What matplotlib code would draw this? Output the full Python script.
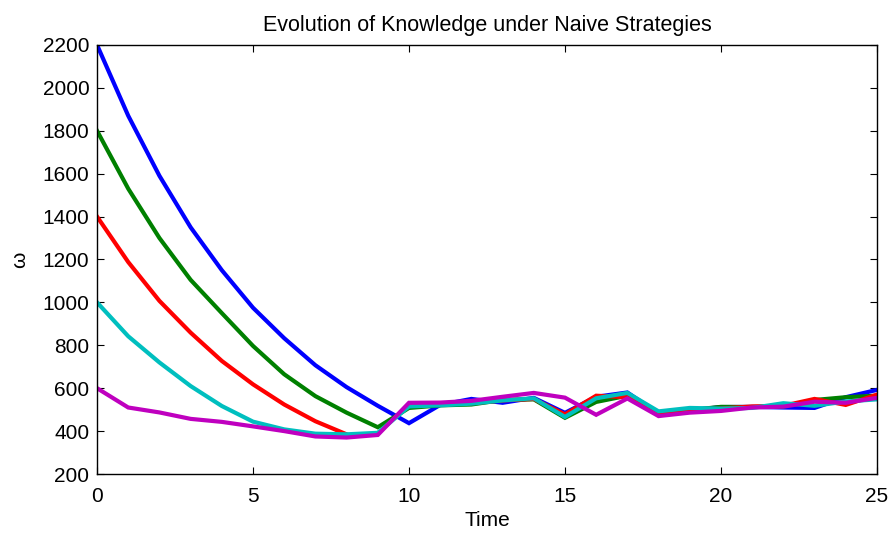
import matplotlib
matplotlib.use("Agg")
import matplotlib.pyplot as plt

plt.rcParams['font.family'] = ['Liberation Sans', 'DejaVu Sans']

time = list(range(26))

# knowledge level under each naive strategy, per time step
omega_2200 = [2200, 1870, 1590, 1350, 1150, 975, 833, 707, 605, 518, 437, 522, 550, 532, 555, 485,
              560, 580, 482, 497, 512, 513, 510, 508, 558, 592]
omega_1800 = [1800, 1530, 1300, 1105, 950, 797, 665, 563, 486, 418, 508, 520, 524, 545, 548, 462,
              536, 565, 485, 498, 513, 512, 515, 545, 558, 565]
omega_1400 = [1400, 1188, 1007, 859, 727, 618, 524, 446, 385, None, 520, 525, 530, 543, 550, 478,
              565, 558, 485, 495, 505, 515, 518, 550, 522, 570]
omega_1000 = [1000, 842, 720, 610, 517, 444, 408, 388, 385, 392, 515, 520, 528, 543, 553, 466,
              553, 578, 492, 508, 505, 508, 530, 518, 538, 548]
omega_600 = [600, 510, 487, 457, 443, 422, 400, 375, 370, 382, 532, 533, 541, 560, 578, 556,
             476, 552, 470, 486, 494, 510, 514, 537, 532, 555]

series = [omega_2200, omega_1800, omega_1400, omega_1000, omega_600]
colors = ['#0000ff', '#008000', '#ff0000', '#00bfbf', '#bf00bf']

fig = plt.figure(figsize=(8.91, 5.35), dpi=100)
ax = fig.add_axes([0.1089, 0.114, 0.8753, 0.802])

for values, color in zip(series, colors):
    ax.plot(time, [float('nan') if v is None else v for v in values],
            color=color, linewidth=3.0, solid_joinstyle='miter')

ax.set_xlim(0, 25)
ax.set_ylim(200, 2200)
ax.set_xticks([0, 5, 10, 15, 20, 25])
ax.set_yticks(range(200, 2201, 200))
ax.tick_params(direction='in', top=True, right=True, labelsize=15, length=5, width=0.8)
ax.tick_params(axis='x', pad=9)
ax.tick_params(axis='y', pad=5.5)
for spine in ax.spines.values():
    spine.set_linewidth(1.0)

ax.set_xlabel('Time', fontsize=15, labelpad=4)
ax.set_ylabel('ω', fontsize=15, labelpad=10)
ax.set_title('Evolution of Knowledge under Naive Strategies', fontsize=15.5, pad=10)

fig.savefig('out.png', dpi=100)
